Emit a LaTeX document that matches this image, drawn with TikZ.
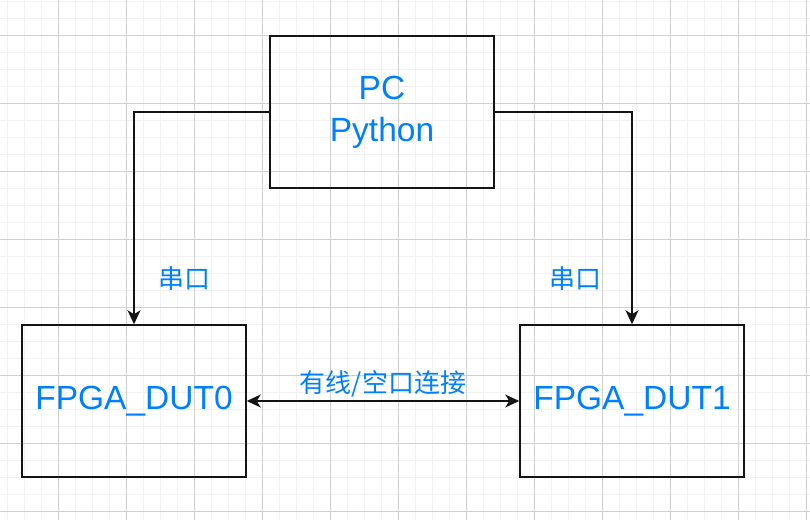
\documentclass[tikz,border=0pt]{standalone}
\usepackage{fontspec}
\setmainfont{Liberation Sans}
\newfontfamily\cjk{Noto Sans CJK SC}
\usepackage{tikz}
\usetikzlibrary{arrows.meta, positioning, calc}
\definecolor{txtblue}{RGB}{0,127,255}
\definecolor{gridmin}{RGB}{242,242,242}
\definecolor{gridmaj}{RGB}{208,208,208}
\definecolor{mydark}{RGB}{20,20,20}
\tikzset{
  box/.style={rectangle, draw=mydark, fill=none, line width=1.5pt,
    minimum width=224pt, minimum height=152pt, align=center,
    font=\fontsize{33.5}{42}\selectfont, text=txtblue},
  lbl/.style={font=\cjk\fontsize{26}{30}\selectfont, text=txtblue, inner sep=0pt},
  arrow/.style={-{Stealth[length=14pt, width=13pt, inset=4pt]}, line width=1.3pt, color=mydark},
  dblarrow/.style={{Stealth[length=14pt, width=13pt, inset=4pt]}-{Stealth[length=14pt, width=13pt, inset=4pt]},
    line width=1.3pt, color=mydark}
}
\begin{document}
\begin{tikzpicture}[x=1pt, y=-1pt]
  \useasboundingbox (0,0) rectangle (810,520);
  \fill[white] (0,0) rectangle (810,520);
  % grid
  \foreach \x in {7,24,...,806} \draw[gridmin, line width=1pt] (\x,0) -- (\x,520);
  \foreach \y in {1,18,...,518} \draw[gridmin, line width=1pt] (0,\y) -- (810,\y);
  \foreach \x in {58,126,...,806} \draw[gridmaj, line width=1pt] (\x,0) -- (\x,520);
  \foreach \y in {35,103,...,518} \draw[gridmaj, line width=1pt] (0,\y) -- (810,\y);
  % boxes
  \node[box] (pc) at (382,112) {\raisebox{-3pt}{PC}\\\raisebox{-3pt}{Python}};
  \node[box] (dut0) at (134,401) {FPGA\_DUT0};
  \node[box] (dut1) at (632,401) {FPGA\_DUT1};
  % links
  \draw[arrow] (pc.west) -| (dut0.north);
  \draw[arrow] (pc.east) -| (dut1.north);
  \draw[dblarrow] (dut0.east) -- (dut1.west);
  \node[lbl, above right=34pt and 24pt of dut0.north] (uart0) {串口};
  \node[lbl, above left=34pt and 30pt of dut1.north] (uart1) {串口};
  \node[lbl, above=4pt of $(dut0.east)!0.5!(dut1.west)$] (link) {有线/空口连接};
\end{tikzpicture}
\end{document}
